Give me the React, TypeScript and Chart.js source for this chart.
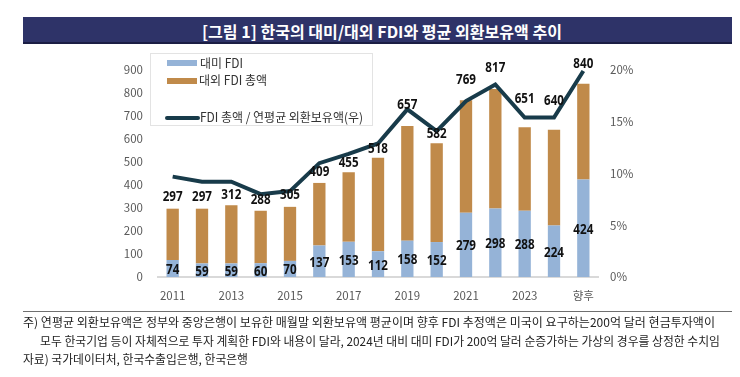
import React, { useEffect, useLayoutEffect, useRef } from "react";
import { Chart, registerables } from "chart.js";

Chart.register(...registerables);

const FONT = "'Noto Sans CJK KR', 'Noto Sans', sans-serif";

const categories = ["2011", "2012", "2013", "2014", "2015", "2016", "2017", "2018", "2019", "2020", "2021", "2022", "2023", "2024", "향후"];
const totalFdi = [297, 297, 312, 288, 305, 409, 455, 518, 657, 582, 769, 817, 651, 640, 840];
const usFdi = [74, 59, 59, 60, 70, 137, 153, 112, 158, 152, 279, 298, 288, 224, 424];
const fdiToReserveRatio = [9.7, 9.2, 9.2, 8.0, 8.3, 11.0, 11.9, 12.9, 16.2, 14.1, 17.0, 18.6, 15.4, 15.4, 19.9];
// vertical lift (px) of each total label above its bar, as laid out in the source
const totalLabelLift = [12, 12, 10, 11, 11.5, 11, 9.5, 9, 21, 9.5, 20.5, 21, 28, 29, 20];

const titleText = "[그림 1] 한국의 대미/대외 FDI와 평균 외환보유액 추이";
const legendUs = "대미 FDI";
const legendTotal = "대외 FDI 총액";
const legendRatio = "FDI 총액 / 연평균 외환보유액(우)";
const note1 = "주) 연평균 외환보유액은 정부와 중앙은행이 보유한 매월말 외환보유액 평균이며 향후 FDI 추정액은 미국이 요구하는200억 달러 현금투자액이";
const note2 = "모두 한국기업 등이 자체적으로 투자 계획한 FDI와 내용이 달라, 2024년 대비 대미 FDI가 200억 달러 순증가하는 가상의 경우를 상정한 수치임";
const note3 = "자료) 국가데이터처, 한국수출입은행, 한국은행";

const BLUE = "#95b3d7";
const BROWN = "#c08a4a";
const LINE = "#183b4a";

function FitText(props: { text: string; left: number; cy: number; width: number; size: number; weight?: number | string; color: string }) {
  const ref = useRef<HTMLSpanElement>(null);
  useLayoutEffect(() => {
    const fit = () => {
      const el = ref.current;
      if (!el) return;
      el.style.transform = "none";
      const w = el.getBoundingClientRect().width;
      if (w > 0) el.style.transform = `scaleX(${props.width / w})`;
    };
    fit();
    if ((document as any).fonts && (document as any).fonts.ready) (document as any).fonts.ready.then(fit);
  }, [props.text, props.width]);
  return (
    <span
      ref={ref}
      style={{
        position: "absolute",
        left: props.left,
        top: props.cy - props.size / 2,
        whiteSpace: "nowrap",
        fontSize: props.size,
        fontWeight: props.weight ?? 400,
        color: props.color,
        lineHeight: 1,
        fontFamily: FONT,
        transformOrigin: "0 50%",
      }}
    >
      {props.text}
    </span>
  );
}

function drawCondensed(ctx: CanvasRenderingContext2D, t: string, x: number, y: number, k: number) {
  ctx.save();
  ctx.translate(x, y);
  ctx.scale(k, 1);
  ctx.fillText(t, 0, 0);
  ctx.restore();
}

const labelPlugin = {
  id: "barValueLabels",
  afterDatasetsDraw(chart: any) {
    const ctx: CanvasRenderingContext2D = chart.ctx;
    const usMeta = chart.getDatasetMeta(0);
    const restMeta = chart.getDatasetMeta(1);
    ctx.save();
    ctx.fillStyle = "#111111";
    ctx.font = `bold 14px 'Noto Sans', sans-serif`;
    ctx.textAlign = "center";
    ctx.textBaseline = "middle";
    usMeta.data.forEach((bar: any, i: number) => {
      const p = bar.getProps(["x", "y", "base"], true);
      drawCondensed(ctx, String(usFdi[i]), p.x, (p.y + p.base) / 2 + 1.5, 0.83);
      const top = restMeta.data[i].getProps(["y"], true).y;
      drawCondensed(ctx, String(totalFdi[i]), p.x, top - totalLabelLift[i], 0.83);
    });
    ctx.restore();
  },
};

export default function App() {
  const canvasRef = useRef<HTMLCanvasElement>(null);

  useEffect(() => {
    if (!canvasRef.current) return;
    const restFdi = totalFdi.map((t, i) => t - usFdi[i]);
    const tickFont = { family: FONT, size: 11.5 };
    const chart = new Chart(canvasRef.current, {
      type: "bar",
      data: {
        labels: categories,
        datasets: [
          { type: "bar", label: legendUs, data: usFdi, backgroundColor: BLUE, yAxisID: "y", order: 1, barPercentage: 0.42, categoryPercentage: 1 },
          { type: "bar", label: legendTotal, data: restFdi, backgroundColor: BROWN, yAxisID: "y", order: 1, barPercentage: 0.42, categoryPercentage: 1 },
          { type: "line", label: legendRatio, data: fdiToReserveRatio, borderColor: LINE, borderWidth: 4, pointRadius: 0, tension: 0, yAxisID: "y1", order: 0, borderJoinStyle: "miter" } as any,
        ],
      },
      options: {
        responsive: false,
        animation: false,
        layout: { padding: { left: 100, right: 102, top: 70, bottom: 75 } },
        plugins: { legend: { display: false }, tooltip: { enabled: false }, title: { display: false } },
        scales: {
          x: {
            stacked: true,
            grid: { display: false, drawTicks: false },
            border: { display: true, color: "#d9d9d9", width: 2 },
            ticks: {
              autoSkip: false,
              maxRotation: 0,
              padding: 12,
              color: "#595959",
              font: tickFont,
              callback: (_v: any, i: number) => (i % 2 === 0 ? categories[i] : ""),
            },
            afterFit: (s: any) => { s.height = 25; },
          },
          y: {
            stacked: true,
            position: "left",
            min: 0,
            max: 900,
            grid: { display: false, drawTicks: false },
            border: { display: false },
            ticks: { stepSize: 100, padding: 15, color: "#595959", font: tickFont },
            afterFit: (s: any) => { s.width = 58; },
          },
          y1: {
            position: "right",
            min: 0,
            max: 20,
            grid: { display: false, drawTicks: false },
            border: { display: false },
            ticks: { stepSize: 5, padding: 12, color: "#595959", font: tickFont, callback: (v: any) => v + "%" },
            afterFit: (s: any) => { s.width = 40; },
          },
        },
      } as any,
      plugins: [labelPlugin],
    });
    return () => chart.destroy();
  }, []);

  return (
    <div style={{ position: "fixed", left: 0, top: 0, width: 740, height: 377, background: "#ffffff", overflow: "hidden", fontFamily: FONT }}>
      <canvas ref={canvasRef} width={740} height={377} style={{ position: "absolute", left: 0, top: 0, width: 740, height: 377 }} />
      <div style={{ position: "absolute", left: 23, top: 17, width: 709, height: 25, background: "#2e3368", borderBottom: "2px solid #1b1e44" }} />
      <FitText text={titleText} left={202} cy={30.5} width={360} size={16} weight={700} color="#ffffff" />

      <div style={{ position: "absolute", left: 150, top: 53, width: 221, height: 71, border: "1px solid #e3e3e3", background: "transparent" }} />
      <div style={{ position: "absolute", left: 167, top: 60, width: 30, height: 6, background: BLUE }} />
      <div style={{ position: "absolute", left: 167, top: 78, width: 30, height: 6, background: BROWN }} />
      <div style={{ position: "absolute", left: 165, top: 116, width: 35, height: 4, background: LINE, borderRadius: 2 }} />
      <FitText text={legendUs} left={200} cy={63} width={43} size={12.5} color="#333333" />
      <FitText text={legendTotal} left={199} cy={80.5} width={68} size={12.5} color="#333333" />
      <FitText text={legendRatio} left={200} cy={117.5} width={163} size={12.5} color="#333333" />

      <div style={{ position: "absolute", left: 23, top: 311, width: 709, height: 1, background: "#6f6f6f" }} />
      <FitText text={note1} left={23} cy={322} width={692} size={12} color="#222222" />
      <FitText text={note2} left={40} cy={340.7} width={680} size={12} color="#222222" />
      <FitText text={note3} left={23} cy={359} width={225} size={12} color="#222222" />
    </div>
  );
}
